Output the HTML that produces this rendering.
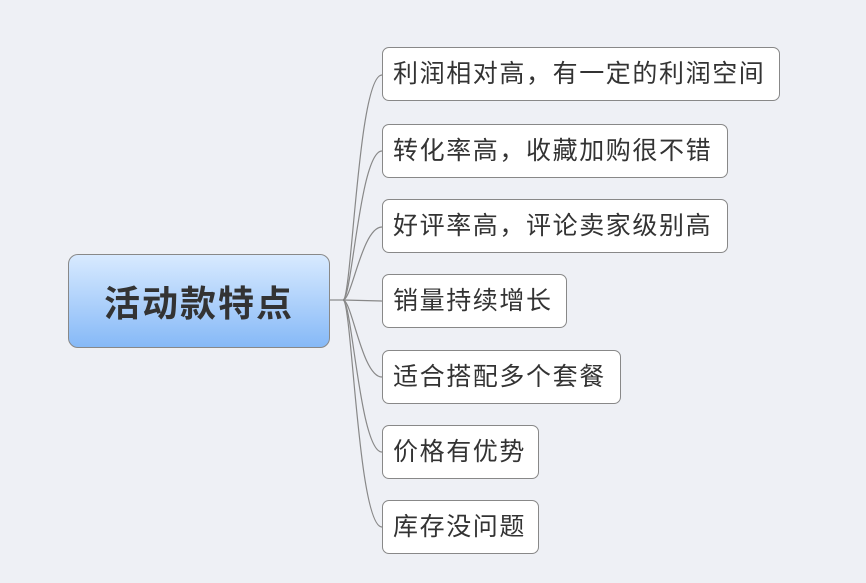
<!DOCTYPE html>
<html><head><meta charset="utf-8"><style>
body{margin:0;background:#eef0f5;width:866px;height:583px;overflow:hidden;position:relative;font-family:"Liberation Sans","Noto Sans CJK SC",sans-serif}
.c{position:absolute;left:68px;top:254px;width:260px;height:92px;border:1px solid #888;border-radius:10px;background:linear-gradient(#d8eaff,#86b9f7);display:flex;align-items:center;justify-content:center;font-size:36px;letter-spacing:2px;font-weight:bold;color:#333}
.b{position:absolute;left:382px;height:54px;border:1px solid #888;border-radius:7px;background:#fff;box-sizing:border-box;font-size:25px;letter-spacing:1.6px;color:#333;line-height:52px;padding-left:10px;white-space:nowrap}
svg{position:absolute;left:0;top:0}
</style></head><body>
<svg width="866" height="583"><g fill="none" stroke="#888" stroke-width="1.2">
<path d="M329,300 L343,300"/>
<path d="M343,300 C352,300 358,75 382,75"/>
<path d="M343,300 C352,300 360,151 382,151"/>
<path d="M343,300 C352,300 362,227 382,227"/>
<path d="M343,300 L382,301"/>
<path d="M343,300 C352,300 362,377 382,377"/>
<path d="M343,300 C352,300 360,452 382,452"/>
<path d="M343,300 C352,300 358,527 382,527"/>
</g></svg>
<div class="c">活动款特点</div>
<div class="b" style="top:47px;width:398px">利润相对高，有一定的利润空间</div>
<div class="b" style="top:124px;width:346px">转化率高，收藏加购很不错</div>
<div class="b" style="top:199px;width:346px">好评率高，评论卖家级别高</div>
<div class="b" style="top:274px;width:185px">销量持续增长</div>
<div class="b" style="top:350px;width:239px">适合搭配多个套餐</div>
<div class="b" style="top:425px;width:157px">价格有优势</div>
<div class="b" style="top:500px;width:157px">库存没问题</div>
</body></html>
